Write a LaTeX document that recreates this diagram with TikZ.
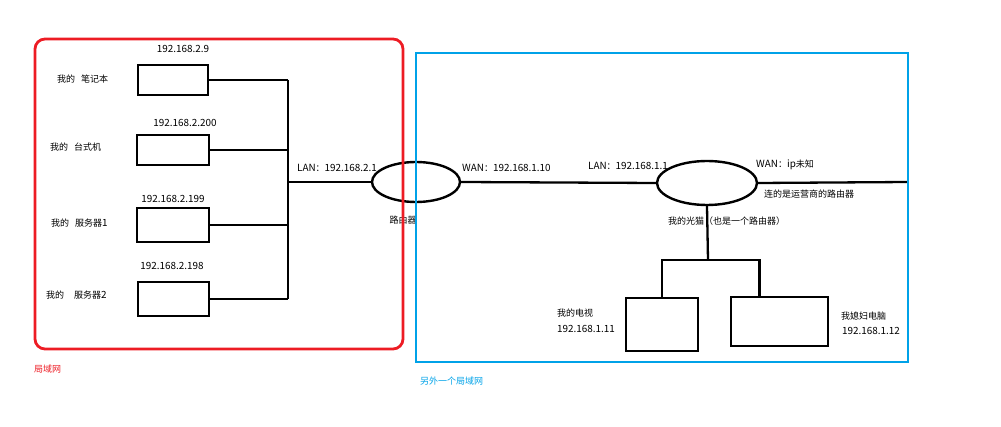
\documentclass[tikz,border=0pt]{standalone}
\usepackage{fontspec}
\setmainfont{Noto Sans CJK SC}
\usetikzlibrary{shapes.geometric}
\definecolor{paintred}{RGB}{237,28,36}
\definecolor{paintblue}{RGB}{0,162,232}
\newcommand\lat[1]{{\fontsize{9.9}{11}\selectfont #1}}
\begin{document}
\begin{tikzpicture}[x=1pt,y=-1pt,font=\fontsize{9}{11}\selectfont,line width=2.3pt]
        \tikzset{host/.style={draw, line width=2pt, inner sep=0pt},
                 router/.style={draw, ellipse, line width=2.4pt, inner sep=0pt},
                 lbl/.style={inner sep=0pt, anchor=west},
                 zone/.style={draw, line width=2.8pt, inner sep=0pt}}
        \useasboundingbox (0,0) rectangle (1001,427);
        % left lan
        \node[host, minimum width=70pt, minimum height=30pt] (laptop) at (173,80) {};
        \node[host, minimum width=72pt, minimum height=30pt] (desktop) at (173,150) {};
        \node[host, minimum width=72pt, minimum height=34pt] (server1) at (173,225) {};
        \node[host, minimum width=71pt, minimum height=34pt] (server2) at (173.5,299) {};
        \node[inner sep=0pt] (ip29) at (183,49) {\lat{192.168.2.9}};
        \node[inner sep=0pt] (ip200) at (185,123) {\lat{192.168.2.200}};
        \node[inner sep=0pt] (ip199) at (173,199) {\lat{192.168.2.199}};
        \node[inner sep=0pt] (ip198) at (172,266) {\lat{192.168.2.198}};
        \node[lbl] (nlaptop) at (56,79) {我的\hspace{6pt}笔记本};
        \node[lbl] (ndesktop) at (49,147) {我的\hspace{6pt}台式机};
        \node[lbl] (nserver1) at (50,223) {我的\hspace{6pt}服务器\lat{1}};
        \node[lbl] (nserver2) at (45,295) {我的\hspace{10pt}服务器\lat{2}};
        \coordinate (bus) at (288,0);
        \draw (laptop.east) -- (laptop.east -| bus);
        \draw (desktop.east) -- (desktop.east -| bus);
        \draw (server1.east) -- (server1.east -| bus);
        \draw (server2.east) -- (server2.east -| bus);
        \draw (laptop.east -| bus) -- (server2.east -| bus);
        % routers
        \node[router, minimum width=88pt, minimum height=40pt] (router) at (416,182) {};
        \node[router, minimum width=100pt, minimum height=44pt] (modem) at (707,183) {};
        \node[inner sep=0pt] (nrouter) at (403,220) {路由器};
        \draw (router.west -| bus) -- (router.west);
        \draw (router.east) -- (modem.west);
        \coordinate (isp) at (908,182);
        \draw (modem.east) -- (isp);
        \node[lbl] (lan2) at (296,168) {\lat{LAN}：\lat{192.168.2.1}};
        \node[lbl] (wan1) at (461,168) {\lat{WAN}：\lat{192.168.1.10}};
        \node[lbl] (lan1) at (587,166) {\lat{LAN}：\lat{192.168.1.1}};
        \node[lbl] (wanisp) at (755,165) {\lat{WAN}：\lat{ip}未知};
        \node[lbl] (nisp) at (763,194) {连的是运营商的路由器};
        \node[lbl] (nmodem) at (667,221) {我的光猫（也是一个路由器）};
        % right lan
        \node[host, minimum width=72pt, minimum height=53pt] (tv) at (662,324.5) {};
        \node[host, minimum width=97pt, minimum height=49pt] (pc) at (779.5,321.5) {};
        \coordinate (split) at (708,260);
        \draw (modem.south) -- (split);
        \draw (tv.north) |- (split) -| ([xshift=-20pt]pc.north);
        \node[lbl] (ntv) at (556,313) {我的电视};
        \node[lbl] (iptv) at (556,329) {\lat{192.168.1.11}};
        \node[lbl] (npc) at (840,316) {我媳妇电脑};
        \node[lbl] (ippc) at (841,331) {\lat{192.168.1.12}};
        % zones
        \node[zone, draw=paintred, rounded corners=10pt, minimum width=368pt, minimum height=310pt] (homelan) at (219,194) {};
        \node[zone, draw=paintblue, minimum width=492pt, minimum height=309pt] (otherlan) at (662,207.5) {};
        \node[lbl, text=paintred] (nhomelan) at (33,369) {局域网};
        \node[lbl, text=paintblue] (notherlan) at (419,381) {另外一个局域网};
\end{tikzpicture}
\end{document}
